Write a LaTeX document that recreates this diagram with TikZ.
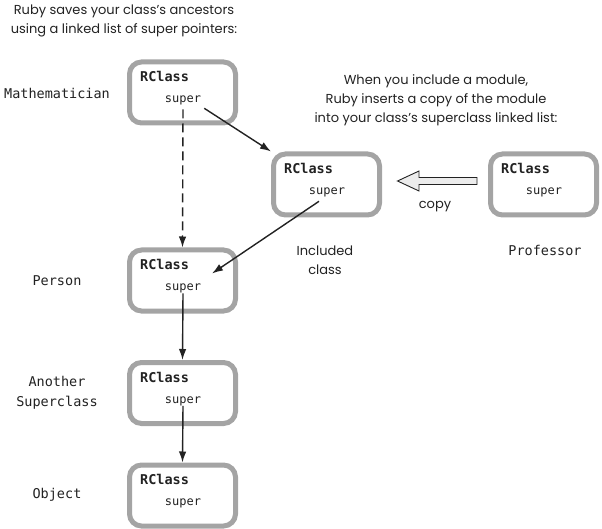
\documentclass[tikz,border=0pt]{standalone}
\usepackage{fontspec}
\setmainfont{Poppins}
\setmonofont{DejaVu Sans Mono}
\usetikzlibrary{arrows.meta,calc}
\definecolor{boxgray}{HTML}{A4A4A4}
\definecolor{ink}{HTML}{222222}
\tikzset{
  classbox/.style={draw=boxgray, line width=5pt, rounded corners=12pt, fill=white,
    minimum width=106pt, minimum height=61pt, inner sep=0pt},
  rclass/.style={anchor=west, font=\ttfamily\bfseries\fontsize{13.5}{15}\selectfont, text=ink, inner sep=0pt},
  supertxt/.style={font=\ttfamily\fontsize{12}{14}\selectfont, text=ink, inner sep=0pt},
  cname/.style={font=\ttfamily\fontsize{13.5}{20}\selectfont, text=ink, align=center},
  note/.style={font=\fontsize{13}{19}\selectfont, text=ink, align=center},
  link/.style={draw=ink, line width=1.4pt, -{Latex[length=11pt,width=7.5pt]}},
  hollowarrow/.style={draw=ink, line width=0.9pt, fill=gray!15, line join=miter},
}
\newcommand{\classbox}[3]{%
  \node[classbox] (#1) at (#2,#3) {};
  \node[rclass] (#1rc) at ($(#1.north west)+(13,17)$) {RClass};
  \node[supertxt] (#1su) at ($(#1.north west)+(56,41)$) {super};
}
\begin{document}
\begin{tikzpicture}[x=1pt,y=-1pt]
\useasboundingbox (0,0) rectangle (602,529);
\classbox{m}{182.5}{92.5}
\classbox{i}{326.5}{184.5}
\classbox{pr}{543.5}{184.5}
\classbox{p}{182.5}{280.5}
\classbox{a}{182.5}{393}
\classbox{o}{182.5}{495.5}

\node[note] (t1) at (124,21) {Ruby saves your class’s ancestors\\using a linked list of super pointers:};
\node[note] (t2) at (436,100) {When you include a module,\\Ruby inserts a copy of the module\\into your class’s superclass linked list:};
\node[cname] (lm) at (57,93) {Mathematician};
\node[cname] (lp) at (57,281) {Person};
\node[cname] (la) at (57,393) {Another\\Superclass};
\node[cname] (lo) at (57,495) {Object};
\node[cname] (lpr) at (545,250) {Professor};
\node[note] (li) at (325,260) {Included\\class};
\node[note] (lc) at (435,207) {copy};

% hollow "copy" arrow
\path[hollowarrow] (397.5,181) -- (419,171) -- (419,177.5) -- (477,177.5)
  -- (477,184.5) -- (419,184.5) -- (419,191) -- cycle;

\coordinate (ms) at ($(msu.south)+(0,4)$);
\coordinate (ms2) at ($(msu.south east)+(3,3)$);
\coordinate (is) at ($(isu.south)+(-8,4)$);
\coordinate (pin) at ($(p.north west)+(85,26)$);
\draw[link, dashed, dash pattern=on 9pt off 5pt] (ms) -- (p.north);
\draw[link] (ms2) -- (i.north west);
\draw[link] (is) -- (pin);
\draw[link] (psu.south) -- (a.north);
\draw[link] (asu.south) -- (o.north);
\end{tikzpicture}
\end{document}
